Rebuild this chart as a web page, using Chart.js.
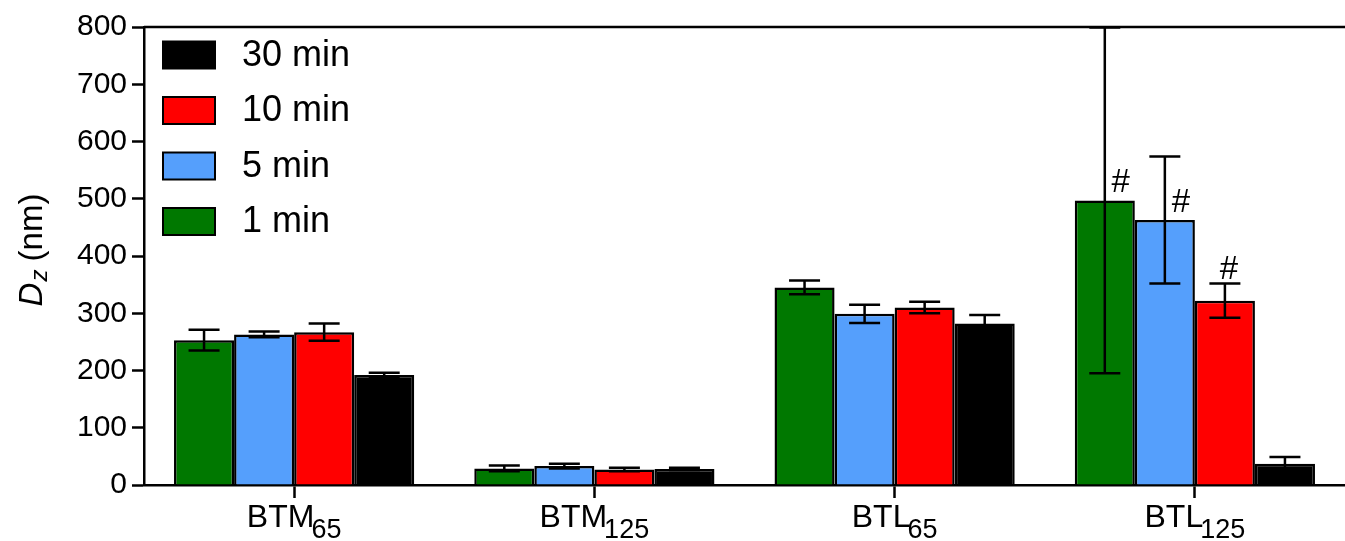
<!DOCTYPE html>
<html>
<head>
<meta charset="utf-8">
<script src="https://cdn.jsdelivr.net/npm/chart.js@4.4.0/dist/chart.umd.min.js"></script>
<style>
  html, body { margin: 0; padding: 0; background: #fff; }
  canvas { display: block; }
</style>
</head>
<body>
<canvas id="myChart" width="1345" height="541"></canvas>
<script>
// categories (base name + subscript)
const categories = ['BTM', 'BTM', 'BTL', 'BTL'];
const categorySubs = ['65', '125', '65', '125'];

// series values (nm) and error bars
const min1 = [253, 29, 345, 497];
const min1Err = [18, 5, 12, 302];
const min5 = [263, 33, 299, 463];
const min5Err = [5, 4, 16, 111];
const min10 = [267, 27, 310, 322];
const min10Err = [15, 3, 10, 30];
const min30 = [192, 28, 282, 37];
const min30Err = [4, 2, 15, 12];

// significance marks
const min1Marks = ['', '', '', '#'];
const min5Marks = ['', '', '', '#'];
const min10Marks = ['', '', '', '#'];
const min30Marks = ['', '', '', ''];

const yMin = 0;
const yMax = 800;
const yStep = 100;

const FONT = '"Liberation Sans", Arial, sans-serif';

const errorBars = {
  id: 'errorBars',
  afterDatasetsDraw(chart) {
    const ctx = chart.ctx;
    const y = chart.scales.y;
    ctx.save();
    ctx.strokeStyle = '#000';
    ctx.lineWidth = 2.5;
    chart.data.datasets.forEach((ds, i) => {
      const meta = chart.getDatasetMeta(i);
      meta.data.forEach((bar, j) => {
        const v = ds.data[j];
        const e = ds.errors[j];
        const top = y.getPixelForValue(v + e);
        const bot = y.getPixelForValue(v - e);
        const x = bar.x;
        ctx.beginPath();
        ctx.moveTo(x, top); ctx.lineTo(x, bot);
        ctx.moveTo(x - 15.5, top); ctx.lineTo(x + 15.5, top);
        ctx.moveTo(x - 15.5, bot); ctx.lineTo(x + 15.5, bot);
        ctx.stroke();

        const mark = ds.marks[j];
        if (mark) {
          ctx.fillStyle = '#000';
          ctx.font = '33px ' + FONT;
          ctx.textAlign = 'center';
          ctx.textBaseline = 'alphabetic';
          const barTop = y.getPixelForValue(v);
          let ty = barTop - 8;
          let tx = x + 16;
          if (barTop - top < 45) {
            ty = top - 4;
            tx = x + 4;
          }
          ctx.fillText(mark, tx, ty);
        }
      });
    });
    ctx.restore();
  }
};

const decorations = {
  id: 'decorations',
  afterDraw(chart) {
    const ctx = chart.ctx;
    const area = chart.chartArea;
    const xs = chart.scales.x;
    ctx.save();

    // top frame line
    ctx.strokeStyle = '#000';
    ctx.lineWidth = 2.5;
    ctx.beginPath();
    ctx.moveTo(area.left, area.top);
    ctx.lineTo(chart.width, area.top);
    ctx.stroke();

    // x category labels with subscripts
    ctx.fillStyle = '#000';
    ctx.textBaseline = 'alphabetic';
    ctx.textAlign = 'left';
    categories.forEach((c, i) => {
      const x = xs.getPixelForTick(i);
      ctx.font = '32px ' + FONT;
      const w1 = ctx.measureText(c).width - 3;
      ctx.font = '27px ' + FONT;
      const w2 = ctx.measureText(categorySubs[i]).width;
      const start = x - (w1 + w2) / 2;
      ctx.font = '32px ' + FONT;
      ctx.fillText(c, start, area.bottom + 42);
      ctx.font = '27px ' + FONT;
      ctx.fillText(categorySubs[i], start + w1, area.bottom + 53);
    });

    // y title: D_z (nm)
    ctx.translate(31, (area.top + area.bottom) / 2 - 6);
    ctx.rotate(-Math.PI / 2);
    const p1 = 'D', p2 = 'z', p3 = ' (nm)';
    ctx.font = 'italic 33px ' + FONT;
    const a = ctx.measureText(p1).width;
    ctx.font = 'italic 24px ' + FONT;
    const b = ctx.measureText(p2).width;
    ctx.font = '33px ' + FONT;
    const c = ctx.measureText(p3).width;
    let sx = -(a + b + c) / 2;
    ctx.font = 'italic 33px ' + FONT;
    ctx.fillText(p1, sx, 11);
    ctx.font = 'italic 24px ' + FONT;
    ctx.fillText(p2, sx + a + 1, 16);
    ctx.font = '33px ' + FONT;
    ctx.fillText(p3, sx + a + b, 11);
    ctx.restore();

    // legend (reverse order), inside plot area top-left
    ctx.save();
    const items = chart.data.datasets.slice().reverse();
    items.forEach((ds, k) => {
      const cy = area.top + 28 + k * 55.5;
      const bx = area.left + 19;
      ctx.fillStyle = ds.backgroundColor;
      ctx.fillRect(bx, cy - 13.5, 52, 27);
      ctx.strokeStyle = '#000';
      ctx.lineWidth = 2;
      ctx.strokeRect(bx, cy - 13.5, 52, 27);
      ctx.fillStyle = '#000';
      ctx.font = '36px ' + FONT;
      ctx.textAlign = 'left';
      ctx.textBaseline = 'middle';
      ctx.fillText(ds.label, area.left + 98, cy + 1);
    });
    ctx.restore();
  }
};

const ctx = document.getElementById('myChart').getContext('2d');

const makeSet = (label, data, errors, marks, color) => ({
  label: label,
  data: data,
  errors: errors,
  marks: marks,
  backgroundColor: color,
  borderColor: '#000',
  borderWidth: 2.5,
  barPercentage: 1,
  categoryPercentage: 0.8
});

new Chart(ctx, {
  type: 'bar',
  data: {
    labels: categories.map((c, i) => c + categorySubs[i]),
    datasets: [
      makeSet('1 min', min1, min1Err, min1Marks, '#007800'),
      makeSet('5 min', min5, min5Err, min5Marks, '#559ffc'),
      makeSet('10 min', min10, min10Err, min10Marks, '#ff0000'),
      makeSet('30 min', min30, min30Err, min30Marks, '#000000')
    ]
  },
  options: {
    responsive: false,
    animation: false,
    layout: { padding: { top: 27, right: -3, left: 0, bottom: 0 } },
    plugins: {
      legend: { display: false },
      tooltip: { enabled: false }
    },
    scales: {
      x: {
        grid: {
          offset: false,
          drawOnChartArea: false,
          drawTicks: true,
          tickLength: 13,
          tickWidth: 2.5,
          tickColor: '#000'
        },
        border: { color: '#000', width: 2.5 },
        ticks: { display: false },
        afterFit(scale) { scale.height = 56; }
      },
      y: {
        min: yMin,
        max: yMax,
        ticks: {
          stepSize: yStep,
          color: '#000',
          font: { family: FONT, size: 30 },
          padding: 5
        },
        grid: {
          drawOnChartArea: false,
          drawTicks: true,
          tickLength: 12,
          tickWidth: 2.5,
          tickColor: '#000'
        },
        border: { color: '#000', width: 2.5 },
        afterFit(scale) { scale.width = 144; }
      }
    }
  },
  plugins: [errorBars, decorations]
});
</script>
</body>
</html>
